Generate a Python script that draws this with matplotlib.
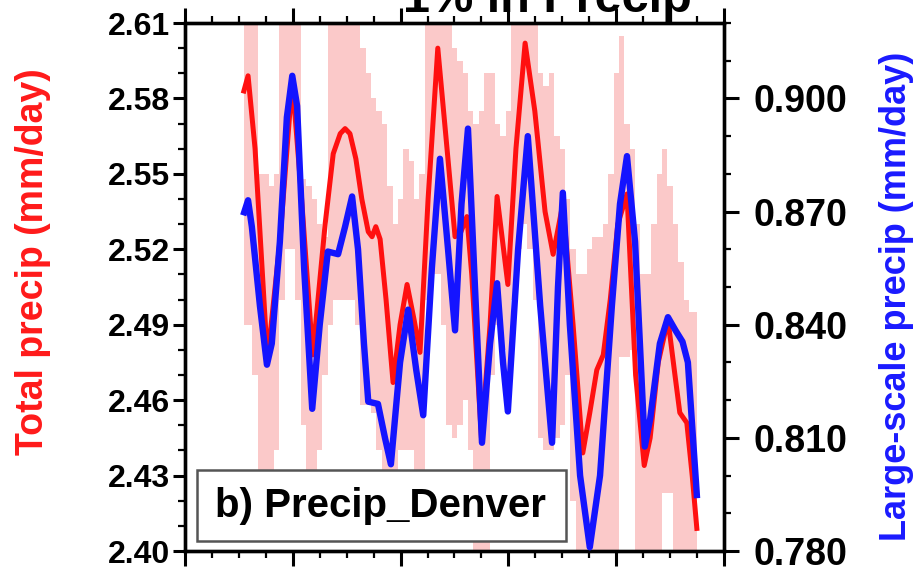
import numpy as np
import matplotlib
matplotlib.use("Agg")
import matplotlib.pyplot as plt
from matplotlib.patches import Rectangle
from matplotlib.ticker import MultipleLocator

plt.rcParams["font.family"] = ["Liberation Sans", "DejaVu Sans"]
plt.rcParams["font.weight"] = "bold"

# ---- data -------------------------------------------------------------
# total precipitation (left axis, mm/day)
red_x = [10.8, 11.7, 13.0, 15.3, 17.6, 19.9, 21.5, 23.7, 26.0, 27.5, 28.8,
         29.7, 30.6, 31.7, 32.8, 34.0, 34.7, 35.4, 36.2, 37.3, 38.6, 39.9,
         41.2, 42.5, 43.6, 45.1, 46.9, 48.4, 50.1, 51.2, 52.3, 53.2, 55.0,
         56.6, 57.9, 59.9, 61.4, 63.1, 64.9, 66.8, 68.3, 70.1, 72.0, 73.8,
         75.1, 76.4, 77.6, 78.9, 80.3, 82.0, 83.6, 85.2, 86.3, 87.8, 89.6,
         90.9, 91.8, 93.1, 94.1, 95.0]
red_y = [2.582, 2.589, 2.560, 2.476, 2.523, 2.587, 2.544, 2.478, 2.530,
         2.558, 2.566, 2.568, 2.566, 2.556, 2.540, 2.527, 2.525, 2.529,
         2.524, 2.500, 2.467, 2.490, 2.506, 2.492, 2.479, 2.540, 2.600,
         2.565, 2.525, 2.527, 2.533, 2.510, 2.445, 2.490, 2.541, 2.506,
         2.560, 2.602, 2.575, 2.535, 2.518, 2.538, 2.490, 2.439, 2.455,
         2.472, 2.478, 2.500, 2.530, 2.542, 2.470, 2.434, 2.445, 2.475,
         2.492, 2.470, 2.455, 2.451, 2.430, 2.408]

# large-scale precipitation (right axis, mm/day)
blue_x = [10.8, 11.7, 12.4, 13.9, 15.2, 16.1, 17.6, 18.9, 19.9, 20.8, 22.1,
          23.6, 25.0, 26.5, 28.4, 29.7, 31.0, 32.1, 33.2, 34.0, 35.8, 37.1,
          38.2, 39.9, 41.4, 42.9, 44.2, 45.8, 47.3, 48.8, 50.1, 51.3, 52.5,
          53.8, 55.1, 56.6, 57.9, 59.0, 59.9, 61.8, 63.6, 65.9, 68.1, 69.2,
          70.1, 71.4, 73.3, 75.1, 77.0, 79.2, 80.7, 82.0, 83.5, 84.4, 85.3,
          86.3, 88.1, 89.6, 91.0, 92.3, 93.3, 95.0]
blue_y = [0.869, 0.873, 0.866, 0.845, 0.8294, 0.835, 0.862, 0.895, 0.906,
          0.898, 0.855, 0.8177, 0.840, 0.8594, 0.8587, 0.866, 0.874, 0.860,
          0.835, 0.8196, 0.819, 0.810, 0.803, 0.830, 0.844, 0.828, 0.816,
          0.855, 0.884, 0.860, 0.8385, 0.872, 0.892, 0.850, 0.8087, 0.835,
          0.851, 0.830, 0.817, 0.860, 0.890, 0.845, 0.8087, 0.850, 0.875,
          0.840, 0.800, 0.781, 0.800, 0.845, 0.872, 0.8847, 0.862, 0.835,
          0.8077, 0.815, 0.835, 0.842, 0.8385, 0.8355, 0.830, 0.794]

# spread of total precipitation (left axis units)
env_x = list(range(11, 96))
env_hi = [2.64, 2.64, 2.64, 2.55, 2.55, 2.545, 2.55, 2.64, 2.64, 2.64,
          2.64, 2.548, 2.545, 2.54, 2.53, 2.525, 2.62, 2.64, 2.64, 2.64,
          2.64, 2.64, 2.60, 2.59, 2.58, 2.575, 2.57, 2.545, 2.53, 2.54,
          2.56, 2.555, 2.54, 2.55, 2.64, 2.64, 2.64, 2.64, 2.64, 2.60,
          2.595, 2.59, 2.575, 2.57, 2.575, 2.59, 2.59, 2.57, 2.565, 2.575,
          2.64, 2.64, 2.64, 2.64, 2.64, 2.59, 2.585, 2.59, 2.565, 2.56,
          2.54, 2.52, 2.51, 2.51, 2.52, 2.525, 2.525, 2.53, 2.55, 2.59,
          2.605, 2.57, 2.56, 2.53, 2.51, 2.51, 2.53, 2.55, 2.56, 2.545,
          2.53, 2.515, 2.50, 2.495, 2.495]
env_lo = [2.49, 2.49, 2.47, 2.43, 2.43, 2.43, 2.44, 2.50, 2.52, 2.52,
          2.50, 2.45, 2.432, 2.432, 2.44, 2.47, 2.49, 2.50, 2.50, 2.50,
          2.50, 2.49, 2.458, 2.458, 2.455, 2.44, 2.432, 2.432, 2.43, 2.44,
          2.44, 2.44, 2.432, 2.432, 2.50, 2.51, 2.51, 2.49, 2.45, 2.445,
          2.45, 2.46, 2.44, 2.39, 2.39, 2.39, 2.47, 2.49, 2.48, 2.46,
          2.50, 2.52, 2.53, 2.52, 2.50, 2.445, 2.44, 2.44, 2.445, 2.45,
          2.47, 2.42, 2.39, 2.39, 2.39, 2.39, 2.39, 2.39, 2.39, 2.39,
          2.477, 2.477, 2.48, 2.39, 2.39, 2.39, 2.39, 2.39, 2.423, 2.423,
          2.39, 2.39, 2.39, 2.39, 2.39]

left_ticks = [2.40, 2.43, 2.46, 2.49, 2.52, 2.55, 2.58, 2.61]
right_ticks = [0.780, 0.810, 0.840, 0.870, 0.900]

# ---- figure -------------------------------------------------------------
fig = plt.figure(figsize=(9.2, 5.71), dpi=100)
ax = fig.add_axes([185 / 920, 20 / 571, 539 / 920, 528 / 571])
ax2 = ax.twinx()

ax.fill_between(env_x, env_lo, env_hi, step="mid", color="#fbc9c9",
                lw=0, zorder=1)
ax.plot(red_x, red_y, color="#ff1010", lw=3.6, solid_joinstyle="round",
        solid_capstyle="butt", zorder=3)
ax2.plot(blue_x, blue_y, color="#1414ff", lw=4.6, solid_joinstyle="round",
         solid_capstyle="butt", zorder=3)

ax.set_xlim(0, 100)
ax.set_ylim(2.40, 2.61)
ax2.set_ylim(0.78, 0.92)

ax.xaxis.set_major_locator(MultipleLocator(20))
ax.xaxis.set_minor_locator(MultipleLocator(5))
ax.set_yticks(left_ticks)
ax.set_yticklabels([f"{v:.2f}" for v in left_ticks])
ax.yaxis.set_minor_locator(MultipleLocator(0.01))
ax2.set_yticks(right_ticks)
ax2.set_yticklabels([f"{v:.3f}" for v in right_ticks])
ax2.yaxis.set_minor_locator(MultipleLocator(0.01))

for a in (ax, ax2):
    for s in a.spines.values():
        s.set_linewidth(2.4)

ax.tick_params(axis="x", which="both", top=True, bottom=True,
               labelbottom=False, direction="out")
ax.tick_params(axis="x", which="major", length=11, width=2.2)
ax.tick_params(axis="x", which="minor", length=5, width=1.6)
ax.tick_params(axis="y", which="major", length=9, width=2.2, pad=2,
               labelsize=23)
ax.tick_params(axis="y", which="minor", length=5, width=1.6)
ax2.tick_params(axis="y", which="major", length=11, width=2.2, pad=10,
                labelsize=27)
ax2.tick_params(axis="y", which="minor", length=5, width=1.6)

fig.text(33 / 920, 1 - 262 / 571, "Total precip (mm/day)", rotation=90,
         color="#ff1a1a", fontsize=27, fontweight="bold", ha="center",
         va="center")
fig.text(897 / 920, 1 - 296 / 571, "Large-scale precip (mm/day)", rotation=90,
         color="#1a1aff", fontsize=26, fontweight="bold", ha="center",
         va="center")

fig.text(403 / 920, 1 - 12 / 571, "1% in Precip", fontsize=35,
         fontweight="bold", ha="left", va="baseline")

# panel label box
ax2.add_patch(Rectangle((0.022, 0.019), 0.685, 0.134, transform=ax2.transAxes,
                        facecolor="white", edgecolor="#555555", lw=1.8,
                        zorder=10))
ax2.text(0.056, 0.086, "b) Precip_Denver", transform=ax2.transAxes,
         fontsize=29, fontweight="bold", ha="left", va="center", zorder=11)

fig.savefig("out.png", dpi=100)
